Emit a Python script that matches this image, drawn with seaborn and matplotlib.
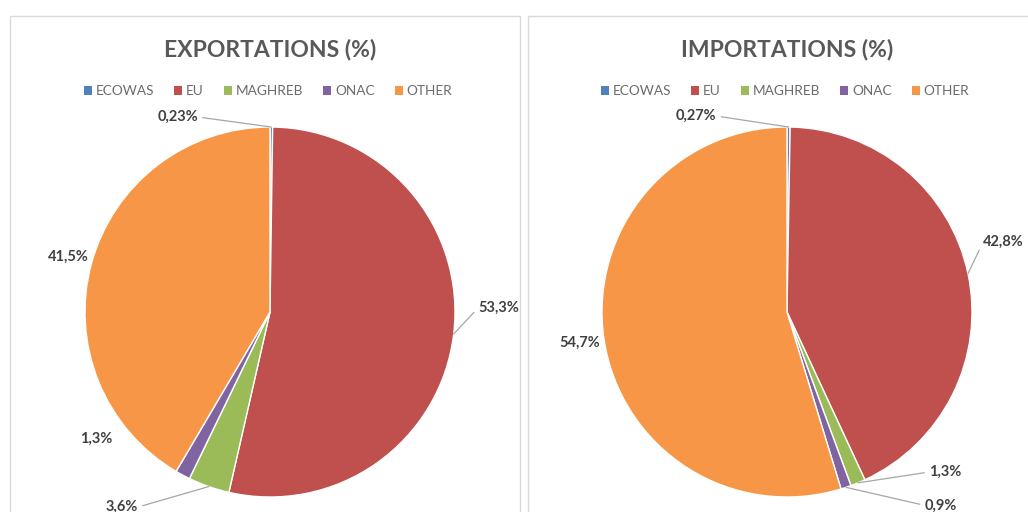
import matplotlib
matplotlib.use("Agg")
import matplotlib.pyplot as plt
import seaborn as sns
import numpy as np
from matplotlib.patches import Rectangle

# ---- data -------------------------------------------------------------
regions = ["ECOWAS", "EU", "MAGHREB", "ONAC", "OTHER"]
export_share = [0.23, 53.3, 3.6, 1.3, 41.5]
import_share = [0.27, 42.8, 1.3, 0.9, 54.7]
export_labels = ["0,23%", "53,3%", "3,6%", "1,3%", "41,5%"]
import_labels = ["0,27%", "42,8%", "1,3%", "0,9%", "54,7%"]
titles = ["EXPORTATIONS (%)", "IMPORTATIONS (%)"]

# ---- style ------------------------------------------------------------
sns.set_theme(style="white")
plt.rcParams["font.family"] = ["Lato", "DejaVu Sans"]
palette = sns.color_palette(["#4F81BD", "#C0504D", "#9BBB59", "#8064A2", "#F79646"])

W, H = 1028, 512
R = 185  # pie radius in pixels
fig = plt.figure(figsize=(W / 100, H / 100), dpi=100)
fig.patch.set_facecolor("white")


def fx(px):
    return px / W


def fy(py):
    return 1 - py / H


# label placement, in pie radii relative to the centre; flag = leader line
export_layout = [(-0.50, 1.054, True), (1.235, 0.022, True), (-0.80, -1.054, True),
                 (-0.94, -0.686, False), (-1.09, 0.297, False)]
import_layout = [(-0.49, 1.059, True), (1.17, 0.378, True), (0.855, -0.865, True),
                 (0.83, -1.045, True), (-1.12, -0.168, False)]

panels = [
    dict(box=(10, 16, 520, 520), cx=270, cy=312, values=export_share,
         labels=export_labels, layout=export_layout, title=titles[0]),
    dict(box=(528, 16, 1040, 520), cx=787, cy=312, values=import_share,
         labels=import_labels, layout=import_layout, title=titles[1]),
]

for p in panels:
    x0, y0, x1, y1 = p["box"]
    fig.patches.append(Rectangle((fx(x0), fy(y1)), fx(x1) - fx(x0), fy(y0) - fy(y1),
                                 transform=fig.transFigure, fill=False,
                                 edgecolor="#D9D9D9", linewidth=1.0, zorder=0))

    cx, cy = p["cx"], p["cy"]
    sx, sy = 1.5, 1.2
    ax = fig.add_axes([fx(cx - sx * R), fy(cy + sy * R), 2 * sx * R / W, 2 * sy * R / H])
    wedges, _ = ax.pie(p["values"], colors=palette, startangle=90, counterclock=False,
                       radius=1, center=(0, 0),
                       wedgeprops=dict(edgecolor="white", linewidth=1.0))
    ax.set_xlim(-sx, sx)
    ax.set_ylim(-sy, sy)
    ax.set_aspect("equal")
    ax.axis("off")

    for w, lab, (tx, ty, leader) in zip(wedges, p["labels"], p["layout"]):
        mid = np.deg2rad((w.theta1 + w.theta2) / 2)
        px, py = np.cos(mid), np.sin(mid)
        if leader:
            ax.annotate(lab, xy=(px, py), xytext=(tx, ty), ha="center", va="center",
                        fontsize=10.5, fontweight="bold", color="#404040",
                        annotation_clip=False,
                        arrowprops=dict(arrowstyle="-", color="#A6A6A6", lw=0.9,
                                        shrinkA=1, shrinkB=0,
                                        relpos=(1, 0.5) if tx < px else (0, 0.5)))
        else:
            ax.text(tx, ty, lab, ha="center", va="center", fontsize=10.5,
                    fontweight="bold", color="#404040", clip_on=False)

    fig.text(fx(cx), fy(49), p["title"], ha="center", va="center", fontsize=16.5,
             fontweight="bold", color="#595959")

    handles = [Rectangle((0, 0), 1, 1, facecolor=c, edgecolor="none") for c in palette]
    fig.legend(handles, regions, loc="center", bbox_to_anchor=(fx(cx - 2), fy(91)),
               bbox_transform=fig.transFigure, ncol=5, frameon=False, fontsize=9.8,
               handlelength=0.6, handleheight=0.6, handletextpad=0.25,
               columnspacing=1.5, labelcolor="#6B6B6B")

fig.savefig("out.png", dpi=100, facecolor="white")
